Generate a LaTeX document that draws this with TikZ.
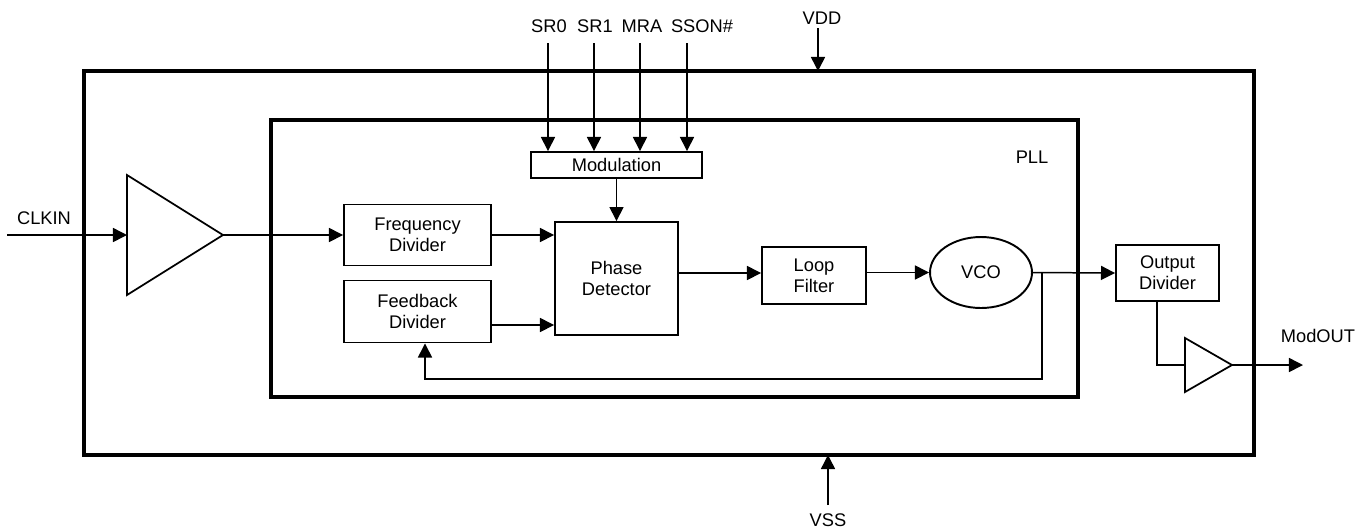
\documentclass[tikz,border=0pt]{standalone}
\usepackage{fontspec}
\setmainfont{Liberation Sans}
\usetikzlibrary{arrows.meta,shapes.geometric}
\begin{document}
\begin{tikzpicture}[x=0.02cm,y=-0.02cm,
  font=\fontsize{10.4pt}{12pt}\selectfont,
  blk/.style={draw,line width=1.1pt,inner sep=0pt,align=center},
  wire/.style={line width=0.85pt},
  arr/.style={wire,-{Triangle[length=8pt,width=8pt]}},
  frame/.style={line width=2.3pt},
  lbl/.style={inner sep=0pt}]
\useasboundingbox (0,0) rectangle (1366,529);
% frames
\draw[frame] (84,71) rectangle (1254,455);
\draw[frame] (271,120) rectangle (1078,397);
\coordinate (vddin) at (818,71);
\coordinate (vssin) at (828,455);
% blocks
\node[blk,minimum width=2.94cm,minimum height=1.22cm] (FD) at (417.5,235) {Frequency\\Divider};
\node[blk,minimum width=2.94cm,minimum height=1.24cm] (FB) at (417.5,311.5) {Feedback\\Divider};
\node[blk,minimum width=2.46cm,minimum height=2.26cm] (PD) at (616.5,278.5) {Phase\\Detector};
\node[blk,minimum width=2.08cm,minimum height=1.14cm] (LF) at (814,275.5) {Loop\\Filter};
\node[blk,ellipse,minimum width=2.04cm,minimum height=1.42cm] (VCO) at (981,272.5) {VCO};
\node[blk,minimum width=2.06cm,minimum height=1.12cm] (OD) at (1167.5,273) {Output\\Divider};
\node[blk,minimum width=3.42cm,minimum height=0.52cm] (MOD) at (616.5,165) {Modulation};
% buffers
\coordinate (bin1) at (127,235);
\coordinate (bout1) at (223,235);
\draw[wire,line width=1pt] (127,175) -- (bout1) -- (127,295) -- cycle;
\coordinate (bin2) at (1185,365);
\coordinate (bout2) at (1232,365);
\draw[wire,line width=1pt] (1185,338) -- (bout2) -- (1185,392) -- cycle;
% labels
\node[lbl] (tclk) at (44,218) {CLKIN};
\node[lbl] (tsr0) at (549,26) {SR0};
\node[lbl] (tsr1) at (595,26) {SR1};
\node[lbl] (tmra) at (642,26) {MRA};
\node[lbl] (tsson) at (702,26) {SSON\#};
\node[lbl] (tvdd) at (822,18) {VDD};
\node[lbl] (tvss) at (828,520) {VSS};
\node[lbl] (tmod) at (1318,336) {ModOUT};
\node[lbl] (tpll) at (1032,157) {PLL};
% free ends
\coordinate (clkin) at (7,235);
\coordinate (sr0) at (548,43);
\coordinate (sr1) at (594,43);
\coordinate (mra) at (640,43);
\coordinate (sson) at (687,43);
\coordinate (vdd) at (818,28);
\coordinate (vss) at (828,505);
\coordinate (modout) at (1303,365);
\coordinate (br) at (1042,272.5);
\coordinate (fbc) at (425,379);
% connectors
\draw[arr] (clkin) -- (bin1);
\draw[arr] (bout1) -- (FD.west);
\draw[arr] (sr0) -- (sr0 |- MOD.north);
\draw[arr] (sr1) -- (sr1 |- MOD.north);
\draw[arr] (mra) -- (mra |- MOD.north);
\draw[arr] (sson) -- (sson |- MOD.north);
\draw[arr] (vdd) -- (vddin);
\draw[arr] (vss) -- (vssin);
\draw[arr] (MOD.south) -- (PD.north);
\draw[arr] (FD.east) -- (FD.east -| PD.west);
\draw[arr] (FB.east |- 0,325) -- (PD.west |- 0,325);
\draw[arr] (PD.east |- 0,273) -- (LF.west |- 0,273);
\draw[arr] (LF.east |- VCO.west) -- (VCO.west);
\draw[arr] (VCO.east) -- (OD.west);
\draw[arr] (br) -- (br |- fbc) -- (fbc) -- (fbc |- FB.south);
\draw[wire] (OD.south -| 1157,0) -- (1157,365) -- (bin2);
\draw[arr] (bout2) -- (modout);
\end{tikzpicture}
\end{document}
